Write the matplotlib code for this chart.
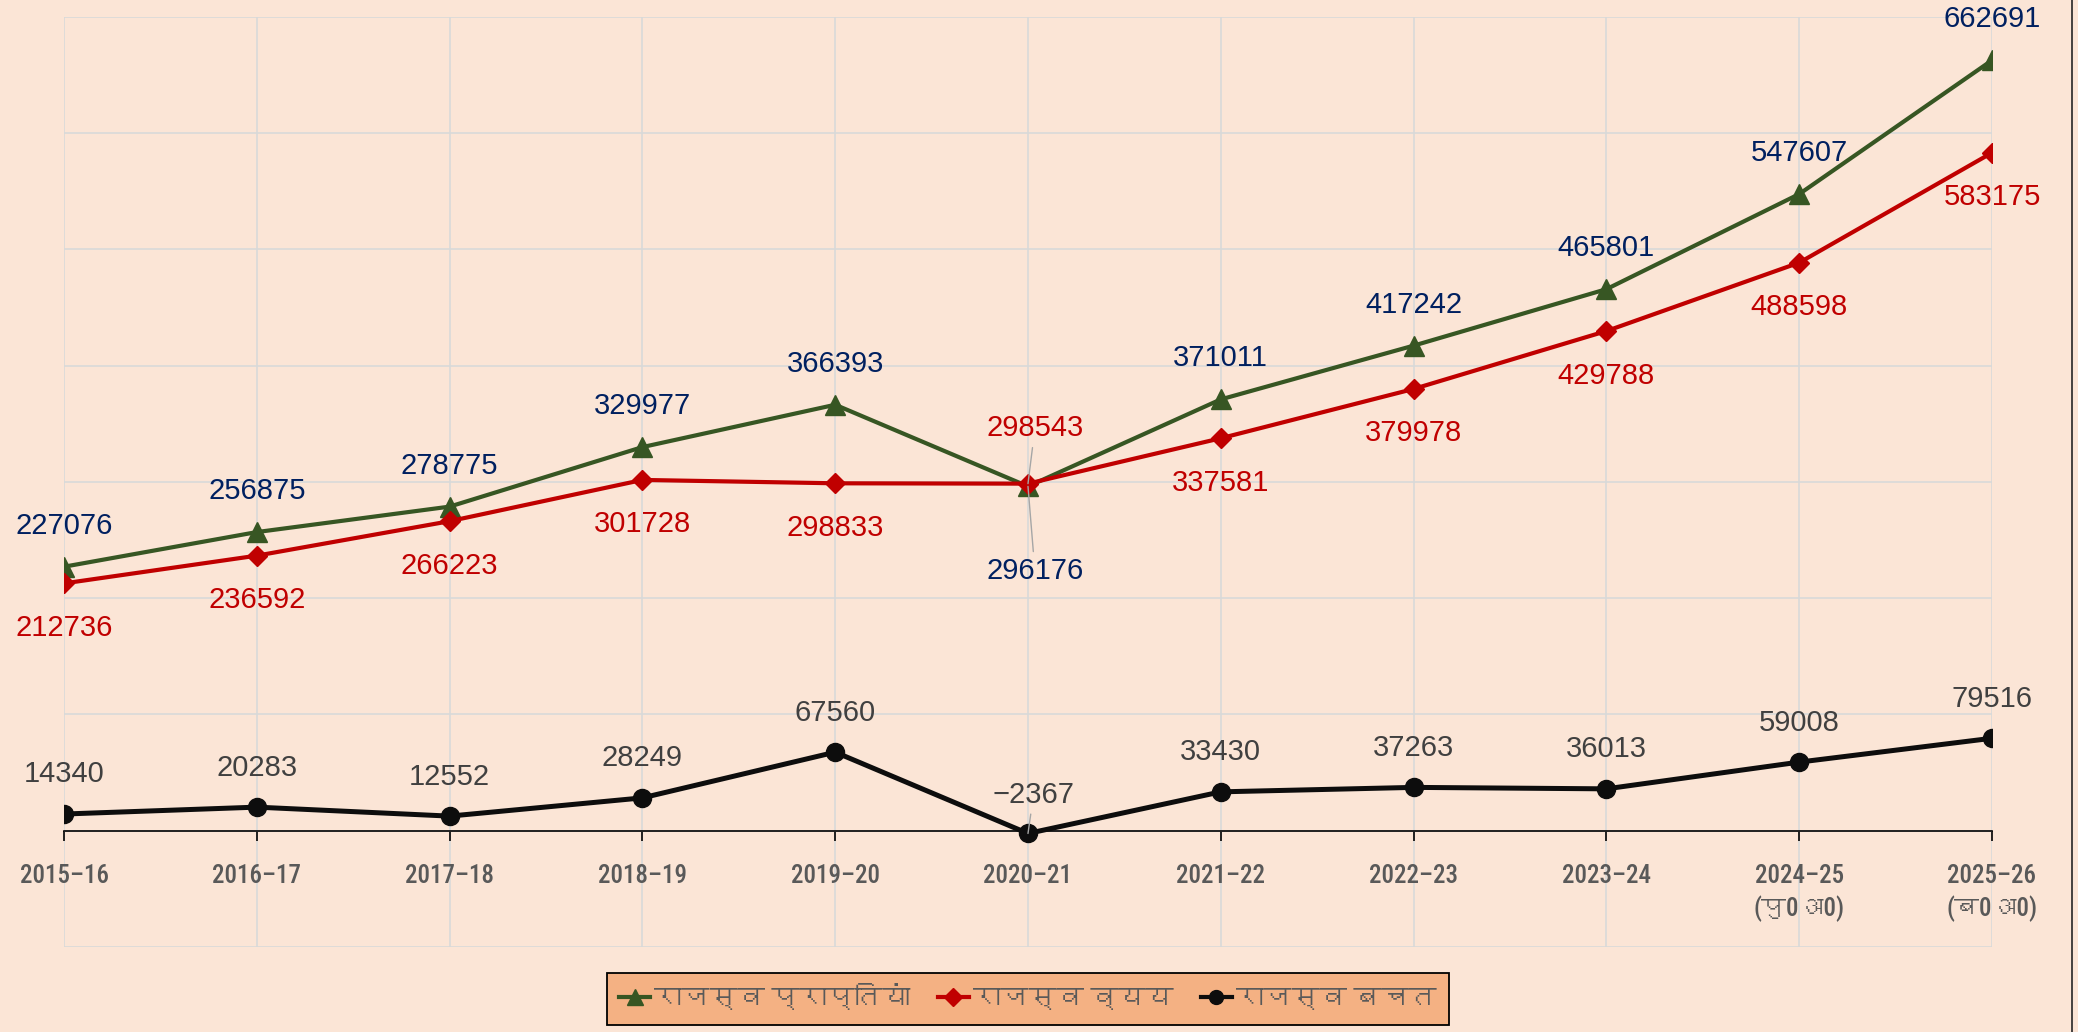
import matplotlib
matplotlib.use("Agg")
import matplotlib.pyplot as plt
from matplotlib import font_manager
from matplotlib.ft2font import FT2Font
from matplotlib.lines import Line2D

years = ["2015–16", "2016–17", "2017–18", "2018–19", "2019–20", "2020–21",
         "2021–22", "2022–23", "2023–24", "2024–25\n(पु0अ0)", "2025–26\n(ब0अ0)"]
receipts = [227076, 256875, 278775, 329977, 366393, 296176,
            371011, 417242, 465801, 547607, 662691]
expenditure = [212736, 236592, 266223, 301728, 298833, 298543,
               337581, 379978, 429788, 488598, 583175]
surplus = [14340, 20283, 12552, 28249, 67560, -2367,
           33430, 37263, 36013, 59008, 79516]
series_names = ["राजस्व प्राप्तियां", "राजस्व व्यय", "राजस्व बचत"]


def families_for(chars):
    # pick installed fonts one after another until every char has a glyph
    cover = {}
    for f in font_manager.fontManager.ttflist:
        try:
            cmap = FT2Font(f.fname).get_charmap()
        except Exception:
            continue
        got = {c for c in chars if ord(c) in cmap}
        if got and len(got) > len(cover.get(f.name, ())):
            cover[f.name] = got
    left = set(chars)
    picked = []
    while left and cover:
        best = max(cover, key=lambda n: len(cover[n] & left))
        if not cover[best] & left:
            break
        picked.append(best)
        left -= cover.pop(best)
    return picked


needed = {c for s in years + series_names for c in s if ord(c) > 0x08FF}
deva = families_for(needed)

names = {f.name for f in font_manager.fontManager.ttflist}
narrow = "Liberation Sans"
for n in ["Liberation Sans Narrow", "Arial Narrow", "Roboto Condensed"]:
    if n in names:
        narrow = n
        break
fam_num = ["Liberation Sans"] + deva + ["DejaVu Sans"]
fam_tick = [narrow] + deva + ["DejaVu Sans"]

bg = "#FBE5D6"
green = "#375623"
red = "#C00000"
navy = "#002060"
grey = "#595959"

fig = plt.figure(figsize=(20.78, 10.32), dpi=100, facecolor=bg)
ax = fig.add_axes([0.0308, 0.0824, 0.9278, 0.9012])
ax.set_facecolor(bg)

for s in ["left", "right", "top"]:
    ax.spines[s].set_visible(False)
ax.spines["bottom"].set_position(("data", 0))
ax.spines["bottom"].set_linewidth(1.2)
ax.spines["bottom"].set_zorder(3)

x = list(range(len(years)))
ax.plot(x, receipts, color=green, lw=3, marker="^", ms=14, zorder=4)
ax.plot(x, expenditure, color=red, lw=3, marker="D", ms=10, zorder=4)
ax.plot(x, surplus, color="#0D0D0D", lw=3.6, marker="o", ms=13, zorder=4)

ax.set_xlim(0, len(years) - 1)
ax.set_ylim(-100000, 700000)
ax.set_yticks(range(-100000, 700001, 100000))
ax.set_xticks(x)
ax.set_xticklabels(years, family=fam_tick, fontsize=18, fontweight="medium",
                   color=grey, linespacing=1.35)
ax.tick_params(axis="y", length=0, labelleft=False)
ax.tick_params(axis="x", direction="out", length=7, width=1.2, color="black", pad=17)
ax.grid(True, color="#D9D9D9", lw=1.2, zorder=0)
ax.set_axisbelow(True)

lead = dict(arrowstyle="-", color="#A6A6A6", lw=1, shrinkA=2, shrinkB=0)
for i in x:
    if i == 5:
        ax.annotate(f"{receipts[i]}", (i, receipts[i]), xytext=(5, -61),
                    textcoords="offset points", ha="center", va="center",
                    color=navy, fontsize=21, family=fam_num, arrowprops=lead, zorder=5)
        ax.annotate(f"{expenditure[i]}", (i, expenditure[i]), xytext=(5, 40),
                    textcoords="offset points", ha="center", va="center",
                    color=red, fontsize=21, family=fam_num, arrowprops=lead, zorder=5)
        ax.annotate(f"{surplus[i]}".replace("-", "−"), (i, surplus[i]), xytext=(4, 28),
                    textcoords="offset points", ha="center", va="center",
                    color="#404040", fontsize=21, family=fam_num, arrowprops=lead, zorder=5)
        continue
    ax.annotate(f"{receipts[i]}", (i, receipts[i]), xytext=(0, 29.5),
                textcoords="offset points", ha="center", va="center",
                color=navy, fontsize=21, family=fam_num, zorder=5)
    ax.annotate(f"{expenditure[i]}", (i, expenditure[i]), xytext=(0, -32),
                textcoords="offset points", ha="center", va="center",
                color=red, fontsize=21, family=fam_num, zorder=5)
    ax.annotate(f"{surplus[i]}", (i, surplus[i]), xytext=(0, 28.5),
                textcoords="offset points", ha="center", va="center",
                color="#404040", fontsize=21, family=fam_num, zorder=5)

handles = [
    Line2D([], [], color=green, lw=3, marker="^", ms=12),
    Line2D([], [], color=red, lw=3, marker="D", ms=9),
    Line2D([], [], color="#0D0D0D", lw=3, marker="o", ms=10),
]
leg = ax.legend(handles, series_names, loc="upper center", bbox_to_anchor=(0.5, -0.028),
                borderaxespad=0, ncol=3, frameon=True, fancybox=False,
                facecolor="#F4B183", edgecolor="black", framealpha=1,
                handlelength=1.1, handletextpad=0.15, columnspacing=1.0, borderpad=0.45,
                prop=font_manager.FontProperties(family=fam_tick, size=20))
leg.get_frame().set_linewidth(1.3)
for t in leg.get_texts():
    t.set_color(grey)

# dark edge on the right of the picture
fig.add_artist(Line2D([0.9971, 0.9971], [0, 1], transform=fig.transFigure,
                      color="#262626", lw=1.2))

fig.savefig("out.png", dpi=100, facecolor=bg)
